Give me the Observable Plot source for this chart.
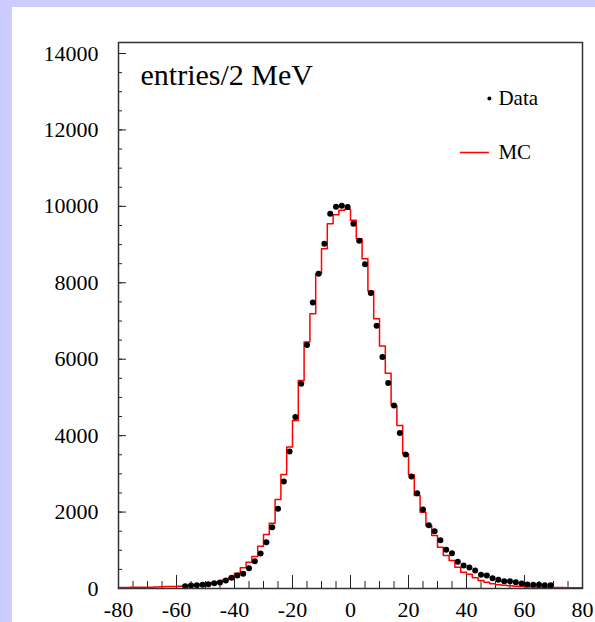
<!DOCTYPE html>
<html><head><meta charset="utf-8">
<script src="https://cdn.jsdelivr.net/npm/d3@7"></script>
<script src="https://cdn.jsdelivr.net/npm/@observablehq/plot@0.6"></script>
<style>
html,body{margin:0;padding:0;background:#ccccff;width:595px;height:622px;overflow:hidden}
#panel{position:absolute;left:12px;top:7px;width:583px;height:615px;background:#fff;overflow:hidden}
svg{display:block}
</style></head><body><div id="panel"></div>
<script>
// MC histogram: bin centers (2 MeV bins) and contents
const mcX = [-79,-77,-75,-73,-71,-69,-67,-65,-63,-61,-59,-57,-55,-53,-51,-49,-47,-45,-43,-41,-39,-37,-35,-33,-31,-29,-27,-25,-23,-21,-19,-17,-15,-13,-11,-9,-7,-5,-3,-1,1,3,5,7,9,11,13,15,17,19,21,23,25,27,29,31,33,35,37,39,41,43,45,47,49,51,53,55,57,59,61,63,65,67,69,71,73,75,77,79];
const mcY = [25,25,30,30,35,35,40,45,50,55,60,70,80,95,110,120,150,185,236,296,401,542,689,838,1108,1414,1710,2330,2984,3700,4398,5445,6448,7191,8238,8893,9548,9783,9896,9922,9634,9155,8632,7783,7060,6343,5636,4791,4267,3526,2976,2435,1998,1649,1388,1082,864,733,558,427,376,280,209,165,122,100,85,70,60,50,45,40,35,30,30,25,25,20,20,20];
// Data points: bin centers and contents
const dataX = [-57,-55,-53,-51,-49,-47,-45,-43,-41,-39,-37,-35,-33,-31,-29,-27,-25,-23,-21,-19,-17,-15,-13,-11,-9,-7,-5,-3,-1,1,3,5,7,9,11,13,15,17,19,21,23,25,27,29,31,33,35,37,39,41,43,45,47,49,51,53,55,57,59,61,63,65,67,69];
const dataY = [60,79,85,95,110,140,160,209,280,340,385,530,715,915,1213,1605,2086,2801,3587,4485,5359,6370,7487,8238,9024,9809,9992,10019,9983,9548,9100,8482,7731,6877,6056,5375,4791,4066,3508,2932,2490,2068,1655,1500,1260,1013,924,700,600,550,471,358,340,270,228,191,191,165,131,105,97,97,86,86];
// Axis ticks
const xMajorTicks = [-80,-60,-40,-20,0,20,40,60,80];
const xMinorTicks = [-80,-75,-70,-65,-60,-55,-50,-45,-40,-35,-30,-25,-20,-15,-10,-5,0,5,10,15,20,25,30,35,40,45,50,55,60,65,70,75,80];
const yMajorTicks = [0,2000,4000,6000,8000,10000,12000,14000];
const yMinorTicks = [0,500,1000,1500,2000,2500,3000,3500,4000,4500,5000,5500,6000,6500,7000,7500,8000,8500,9000,9500,10000,10500,11000,11500,12000,12500,13000,13500,14000];
const titleText = "entries/2 MeV";
const legendLabels = ["Data", "MC"];

const W = 583, H = 615, mL = 106, mR = 13, mT = 35, mB = 34;
const innerW = W - mL - mR, innerH = H - mT - mB;

const mcSteps = mcX.map((c, i) => ({x: c - 1, y: mcY[i]}));
mcSteps.push({x: mcX[mcX.length - 1] + 1, y: mcY[mcY.length - 1]});
const points = dataX.map((x, i) => ({x, y: dataY[i]}));

const chart = Plot.plot({
  width: W, height: H,
  marginLeft: mL, marginRight: mR, marginTop: mT, marginBottom: mB,
  style: {fontFamily: "'Liberation Serif','Times New Roman',serif", background: "transparent", color: "#000"},
  x: {domain: [-80, 80]},
  y: {domain: [0, 14288]},
  marks: [
    Plot.tickY(yMinorTicks, {y: d => d, insetRight: innerW - 4, stroke: "#222"}),
    Plot.tickY(yMajorTicks, {y: d => d, insetRight: innerW - 8, stroke: "#222"}),
    Plot.tickX(xMinorTicks, {x: d => d, insetTop: innerH - 7, stroke: "#222"}),
    Plot.tickX(xMajorTicks, {x: d => d, insetTop: innerH - 13, stroke: "#222"}),
    Plot.axisX({ticks: xMajorTicks, tickSize: 0, tickPadding: 13, fontSize: 22, label: null, tickFormat: d => String(d)}),
    Plot.axisY({ticks: yMajorTicks, tickSize: 0, tickPadding: 20, fontSize: 22, label: null, tickFormat: d => String(d)}),
    Plot.lineY(mcSteps, {x: "x", y: "y", curve: "step-after", stroke: "#ff0000", strokeWidth: 1.5}),
    Plot.dot(points, {x: "x", y: "y", r: 3, fill: "#000"}),
    Plot.frame({stroke: "#333", strokeWidth: 1.5}),
    Plot.text([titleText], {x: -72.4, y: 13425, text: d => d, textAnchor: "start", fontSize: 30}),
    Plot.dot([legendLabels[0]], {x: 47.9, y: 12823, r: 2, fill: "#000"}),
    Plot.text([legendLabels[0]], {x: 51, y: 12823, text: d => d, textAnchor: "start", fontSize: 21}),
    Plot.ruleY([11410], {x1: 37.9, x2: 47.9, stroke: "#ff0000", strokeWidth: 1.5}),
    Plot.text([legendLabels[1]], {x: 51, y: 11410, text: d => d, textAnchor: "start", fontSize: 21})
  ]
});
document.getElementById("panel").appendChild(chart);
</script>
</body></html>
